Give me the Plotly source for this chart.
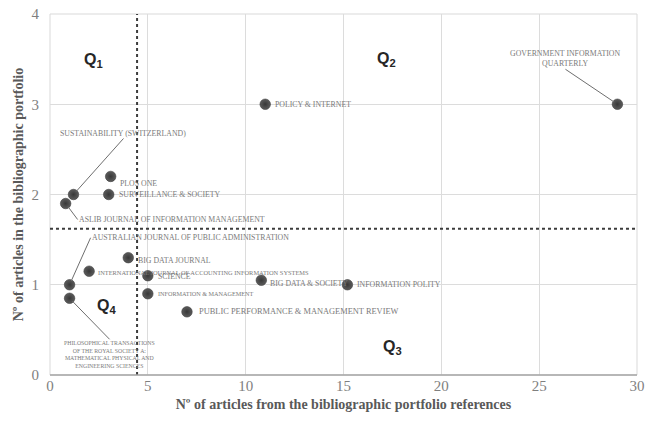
import plotly.graph_objects as go

# Journals: citations in portfolio references (x) vs. articles in the portfolio (y)
journals = [
    "GOVERNMENT INFORMATION<br>QUARTERLY",
    "POLICY & INTERNET",
    "SUSTAINABILITY (SWITZERLAND)",
    "PLOS ONE",
    "SURVEILLANCE & SOCIETY",
    "ASLIB JOURNAL OF INFORMATION MANAGEMENT",
    "AUSTRALIAN JOURNAL OF PUBLIC ADMINISTRATION",
    "BIG DATA JOURNAL",
    "INTERNATIONAL JOURNAL OF ACCOUNTING INFORMATION SYSTEMS",
    "SCIENCE",
    "INFORMATION & MANAGEMENT",
    "BIG DATA & SOCIETY",
    "INFORMATION POLITY",
    "PUBLIC PERFORMANCE & MANAGEMENT REVIEW",
    "PHILOSOPHICAL TRANSACTIONS<br>OF THE ROYAL SOCIETY A:<br>MATHEMATICAL PHYSICAL AND<br>ENGINEERING SCIENCES",
]
refs_count = [29.0, 11.0, 1.2, 3.1, 3.0, 0.8, 1.0, 4.0, 2.0, 5.0, 5.0, 10.8, 15.2, 7.0, 1.0]
portfolio_count = [3.0, 3.0, 2.0, 2.2, 2.0, 1.9, 1.0, 1.3, 1.15, 1.1, 0.9, 1.05, 1.0, 0.7, 0.85]

# Quadrant thresholds
x_cut = 4.45
y_cut = 1.62

x_ticks = [0, 5, 10, 15, 20, 25, 30]
y_ticks = [0, 1, 2, 3, 4]

# Label placement: (pixel dx, pixel dy, xanchor, yanchor, leader line, font size)
label_layout = [
    (-52, -35, "center", "bottom", True, 7.8),
    (8, 0, "left", "middle", False, 7.8),
    (50, -56, "center", "bottom", True, 7.8),
    (7, 7, "left", "middle", False, 7.8),
    (8, 0, "left", "middle", False, 7.8),
    (12, 16, "left", "middle", True, 7.8),
    (21, -47, "left", "middle", True, 7.8),
    (8, 3, "left", "middle", False, 7.8),
    (7, 1, "left", "middle", False, 6.4),
    (8, 1, "left", "middle", False, 7.8),
    (8, 0, "left", "middle", False, 6.2),
    (7, 3, "left", "middle", False, 7.8),
    (8, 0, "left", "middle", False, 7.8),
    (10, 0, "left", "middle", False, 8.4),
    (40, 41, "center", "top", True, 5.8),
]

fig = go.Figure()

fig.add_trace(go.Scatter(
    x=refs_count, y=portfolio_count, mode="markers",
    marker=dict(size=10.5, color="#5c5c5c",
                gradient=dict(type="radial", color="#383838"),
                line=dict(color="#3a3a3a", width=0.6)),
    hoverinfo="skip", showlegend=False,
))

for name, xv, yv, (dx, dy, xa, ya, line, fs) in zip(journals, refs_count, portfolio_count, label_layout):
    label_font = dict(family="Liberation Serif, Times New Roman, serif", size=fs, color="#7a7a7a")
    if line:
        fig.add_annotation(x=xv, y=yv, text=name, showarrow=True, ax=dx, ay=dy,
                           xanchor=xa, yanchor=ya, arrowhead=0, arrowwidth=1,
                           arrowcolor="#6e6e6e", standoff=4, borderpad=0,
                           font=label_font, align="center")
    else:
        fig.add_annotation(x=xv, y=yv, text=name, showarrow=False,
                           xshift=dx, yshift=-dy, xanchor=xa, yanchor=ya,
                           font=label_font)

# Quadrant names
quad_font = dict(family="Liberation Sans, Arial, sans-serif", size=16, color="#262626")
for q, qx, qy in [("1", 2.2, 3.48), ("2", 17.2, 3.5), ("3", 17.5, 0.31), ("4", 2.9, 0.76)]:
    fig.add_annotation(x=qx, y=qy, text=f"<b>Q<sub>{q}</sub></b>", showarrow=False, font=quad_font)

# Quadrant dividers
fig.add_shape(type="line", x0=x_cut, x1=x_cut, y0=0, y1=4,
              line=dict(color="#3c3c3c", width=2, dash="dot"))
fig.add_shape(type="line", x0=0, x1=30, y0=y_cut, y1=y_cut,
              line=dict(color="#3c3c3c", width=2, dash="dot"))

# Plot frame and bottom axis
fig.add_shape(type="rect", xref="paper", yref="paper", x0=0, x1=1, y0=0, y1=1,
              line=dict(color="#d9d9d9", width=1), layer="below")
fig.add_shape(type="line", xref="paper", yref="paper", x0=0, x1=1, y0=0, y1=0,
              line=dict(color="#a6a6a6", width=1.5))

tick_font = dict(family="Liberation Serif, Times New Roman, serif", size=15, color="#7f7f7f")
title_font = dict(family="Liberation Serif, Times New Roman, serif", size=14, color="#595959")

fig.update_xaxes(range=[0, 30], tickvals=x_ticks, showgrid=True, gridcolor="#dcdcdc",
                 zeroline=False, tickfont=tick_font, ticks="", automargin=False,
                 title=dict(text="<b>Nº of articles from the bibliographic portfolio references</b>",
                            font=title_font, standoff=6))
fig.update_yaxes(range=[0, 4], tickvals=y_ticks, showgrid=True, gridcolor="#dcdcdc",
                 zeroline=False, tickfont=tick_font, ticks="", ticklabelstandoff=10,
                 automargin=False,
                 title=dict(text="<b>Nº of articles in the bibliographic portfolio</b>",
                            font=title_font, standoff=4))

fig.update_layout(
    width=646, height=426,
    margin=dict(l=50, r=9, t=14, b=51, autoexpand=False),
    plot_bgcolor="white", paper_bgcolor="white",
)

fig.write_html("out.html")
